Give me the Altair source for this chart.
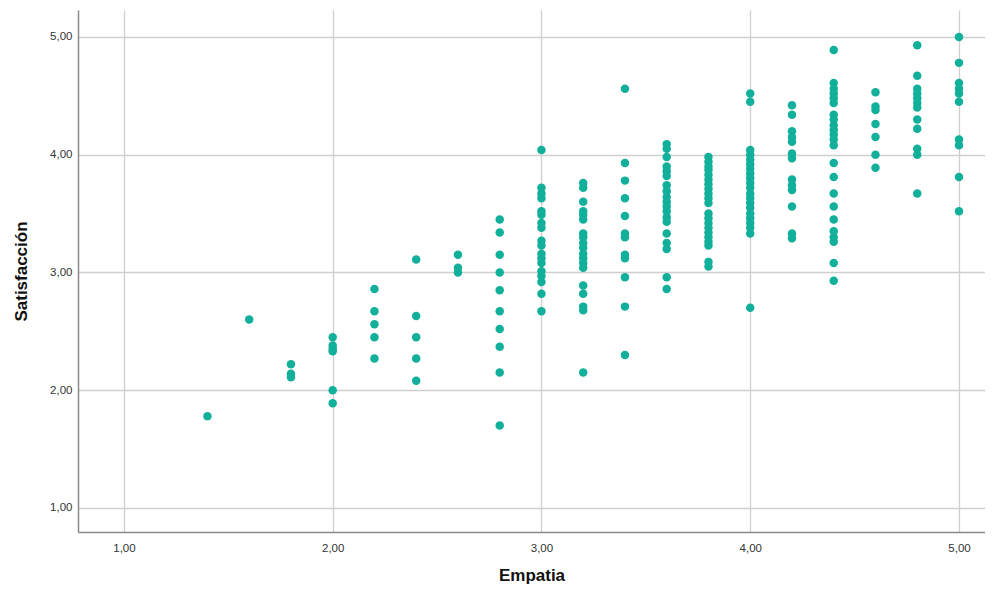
import altair as alt
import pandas as pd

# Empatia column values (x) and the Satisfacción values read at each column (y)
emp_levels = [1.4, 1.6, 1.8, 2.0, 2.2, 2.4, 2.6, 2.8, 3.0, 3.2, 3.4, 3.6, 3.8, 4.0, 4.2, 4.4, 4.6, 4.8, 5.0]

sat_1_4 = [1.78]
sat_1_6 = [2.60]
sat_1_8 = [2.22, 2.14, 2.11]
sat_2_0 = [2.45, 2.38, 2.35, 2.33, 2.00, 1.89]
sat_2_2 = [2.86, 2.67, 2.56, 2.45, 2.27]
sat_2_4 = [3.11, 2.63, 2.45, 2.27, 2.08]
sat_2_6 = [3.15, 3.04, 3.00]
sat_2_8 = [3.45, 3.34, 3.15, 3.00, 2.85, 2.67, 2.52, 2.37, 2.15, 1.70]
sat_3_0 = [4.04, 3.72, 3.67, 3.63, 3.52, 3.49, 3.42, 3.38, 3.27, 3.23, 3.16, 3.12,
           3.08, 3.01, 2.97, 2.92, 2.82, 2.67]
sat_3_2 = [3.76, 3.72, 3.60, 3.52, 3.49, 3.45, 3.33, 3.30, 3.25, 3.21, 3.16, 3.12,
           3.08, 3.04, 2.89, 2.82, 2.71, 2.68, 2.15]
sat_3_4 = [4.56, 3.93, 3.78, 3.63, 3.48, 3.33, 3.30, 3.15, 3.12, 2.96, 2.71, 2.30]
sat_3_6 = [4.09, 4.05, 3.98, 3.90, 3.86, 3.82, 3.74, 3.69, 3.64, 3.60, 3.56, 3.52,
           3.47, 3.43, 3.33, 3.25, 3.20, 2.96, 2.86]
sat_3_8 = [3.98, 3.94, 3.90, 3.87, 3.83, 3.79, 3.75, 3.71, 3.67, 3.63, 3.59, 3.50,
           3.46, 3.42, 3.38, 3.34, 3.30, 3.26, 3.23, 3.09, 3.05]
sat_4_0 = [4.52, 4.45, 4.04, 4.00, 3.96, 3.92, 3.88, 3.84, 3.80, 3.76, 3.72, 3.67,
           3.63, 3.59, 3.55, 3.50, 3.46, 3.42, 3.38, 3.33, 2.70]
sat_4_2 = [4.42, 4.34, 4.20, 4.15, 4.11, 4.01, 3.97, 3.79, 3.74, 3.70, 3.56, 3.33, 3.29]
sat_4_4 = [4.89, 4.61, 4.56, 4.52, 4.48, 4.44, 4.34, 4.30, 4.25, 4.21, 4.17, 4.13,
           4.08, 3.93, 3.81, 3.67, 3.56, 3.45, 3.35, 3.30, 3.26, 3.08, 2.93]
sat_4_6 = [4.53, 4.41, 4.38, 4.26, 4.15, 4.00, 3.89]
sat_4_8 = [4.93, 4.67, 4.56, 4.52, 4.48, 4.44, 4.40, 4.30, 4.22, 4.05, 4.00, 3.67]
sat_5_0 = [5.00, 4.78, 4.61, 4.56, 4.52, 4.45, 4.13, 4.08, 3.81, 3.52]

sat_columns = [sat_1_4, sat_1_6, sat_1_8, sat_2_0, sat_2_2, sat_2_4, sat_2_6, sat_2_8,
               sat_3_0, sat_3_2, sat_3_4, sat_3_6, sat_3_8, sat_4_0, sat_4_2, sat_4_4,
               sat_4_6, sat_4_8, sat_5_0]

tick_values = [1, 2, 3, 4, 5]

rows = []
for e, col in zip(emp_levels, sat_columns):
    for s in col:
        rows.append({"Empatia": e, "Satisfaccion": s})
df = pd.DataFrame(rows)

FONT = "Liberation Sans"
label_expr = "replace(format(datum.value, '.2f'), '.', ',')"

chart = alt.Chart(df).mark_circle(size=72, opacity=1, color="#12b09b").encode(
    x=alt.X(
        "Empatia:Q",
        scale=alt.Scale(domain=[0.78, 5.1246], nice=False, zero=False),
        axis=alt.Axis(
            title="Empatia", values=tick_values, labelExpr=label_expr,
            ticks=False, grid=True, gridColor="#cfcfcf", gridWidth=1.3,
            domainColor="#8a8a8a", domainWidth=1.5,
            labelFont=FONT, labelFontSize=11.5, labelColor="#333333", labelPadding=10,
            titleFont=FONT, titleFontSize=17, titleFontWeight="bold", titleColor="#111111",
            titlePadding=14,
        ),
    ),
    y=alt.Y(
        "Satisfaccion:Q",
        scale=alt.Scale(domain=[0.796, 5.229], nice=False, zero=False),
        axis=alt.Axis(
            title="Satisfacción", values=tick_values, labelExpr=label_expr,
            ticks=False, grid=True, gridColor="#cfcfcf", gridWidth=1.3,
            domainColor="#8a8a8a", domainWidth=1.5,
            labelFont=FONT, labelFontSize=11.5, labelColor="#333333", labelPadding=6,
            titleFont=FONT, titleFontSize=17, titleFontWeight="bold", titleColor="#111111",
            titleX=-48,
        ),
    ),
).properties(
    width=907,
    height=522,
    autosize=alt.AutoSizeParams(type="none"),
    padding={"left": 70, "top": 2, "right": 0, "bottom": 54},
).configure_view(stroke=None)

chart.save("out.html", embed_options={"renderer": "svg", "actions": False})
